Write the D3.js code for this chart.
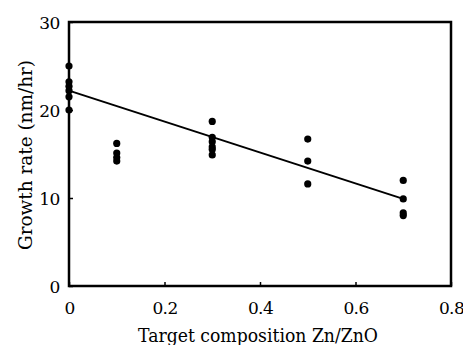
<!DOCTYPE html>
<html>
<head>
<meta charset="utf-8">
<script src="https://cdn.jsdelivr.net/npm/d3@7"></script>
<style>
  html, body { margin: 0; padding: 0; background: #fff; }
  svg { display: block; }
</style>
</head>
<body>
<svg id="chart" width="463" height="345"></svg>
<script>
// measured growth rates per target composition
const compositions = [0, 0, 0, 0, 0, 0,
  0.1, 0.1, 0.1, 0.1,
  0.3, 0.3, 0.3, 0.3, 0.3, 0.3,
  0.5, 0.5, 0.5,
  0.7, 0.7, 0.7, 0.7];
const growthRates = [25.0, 23.2, 22.7, 22.2, 21.5, 20.0,
  16.2, 15.1, 14.6, 14.2,
  18.7, 16.9, 16.4, 15.8, 15.5, 14.9,
  16.7, 14.2, 11.6,
  12.0, 9.9, 8.3, 8.0];
const fitX = [0, 0.7];
const fitY = [22.2, 9.9];
const xTicks = [0, 0.2, 0.4, 0.6, 0.8];
const yTicks = [0, 10, 20, 30];

const plotLeft = 69, plotRight = 451, plotTop = 22, plotBottom = 286;
const FONT = 'DejaVu Serif';

const svg = d3.select('#chart');
const x = d3.scaleLinear().domain([0, 0.8]).range([plotLeft, plotRight]);
const y = d3.scaleLinear().domain([0, 30]).range([plotBottom, plotTop]);

// axes with inward ticks
const xAxis = svg.append('g')
  .attr('transform', `translate(0,${plotBottom})`)
  .call(d3.axisBottom(x).tickValues(xTicks).tickSize(-4).tickPadding(0)
    .tickFormat(d => d === 0 ? '0' : d3.format('.1f')(d)));
const yAxis = svg.append('g')
  .attr('transform', `translate(${plotLeft},0)`)
  .call(d3.axisLeft(y).tickValues(yTicks).tickSize(-4).tickPadding(9));

[xAxis, yAxis].forEach(a => {
  a.attr('font-family', FONT).attr('font-size', 17);
  a.select('.domain').remove();
  a.selectAll('line').attr('stroke', '#000').attr('stroke-width', 1.5);
  a.selectAll('text').attr('fill', '#000');
});
// baseline around y=314
xAxis.selectAll('text').attr('y', 28).attr('dy', null)
  .attr('letter-spacing', -0.6);
yAxis.selectAll('text').attr('dy', '0.36em').attr('letter-spacing', -0.4);

// frame
svg.append('rect')
  .attr('x', plotLeft).attr('y', plotTop)
  .attr('width', plotRight - plotLeft).attr('height', plotBottom - plotTop)
  .attr('fill', 'none')
  .attr('stroke', '#000')
  .attr('stroke-width', 2.5);

// fit line
svg.append('line')
  .attr('x1', x(fitX[0])).attr('y1', y(fitY[0]))
  .attr('x2', x(fitX[1])).attr('y2', y(fitY[1]))
  .attr('stroke', '#000')
  .attr('stroke-width', 2);

// data points
svg.append('g')
  .selectAll('circle')
  .data(d3.range(compositions.length))
  .join('circle')
  .attr('cx', i => x(compositions[i]))
  .attr('cy', i => y(growthRates[i]))
  .attr('r', 3.6)
  .attr('fill', '#000');

// axis titles
svg.append('text')
  .attr('x', 138)
  .attr('y', 342)
  .attr('font-family', FONT)
  .attr('font-size', 19)
  .attr('textLength', 240)
  .attr('lengthAdjust', 'spacingAndGlyphs')
  .text('Target composition Zn/ZnO');

svg.append('text')
  .attr('transform', 'translate(32,250) rotate(-90)')
  .attr('font-family', FONT)
  .attr('font-size', 19)
  .attr('textLength', 190)
  .attr('lengthAdjust', 'spacingAndGlyphs')
  .text('Growth rate (nm/hr)');
</script>
</body>
</html>
